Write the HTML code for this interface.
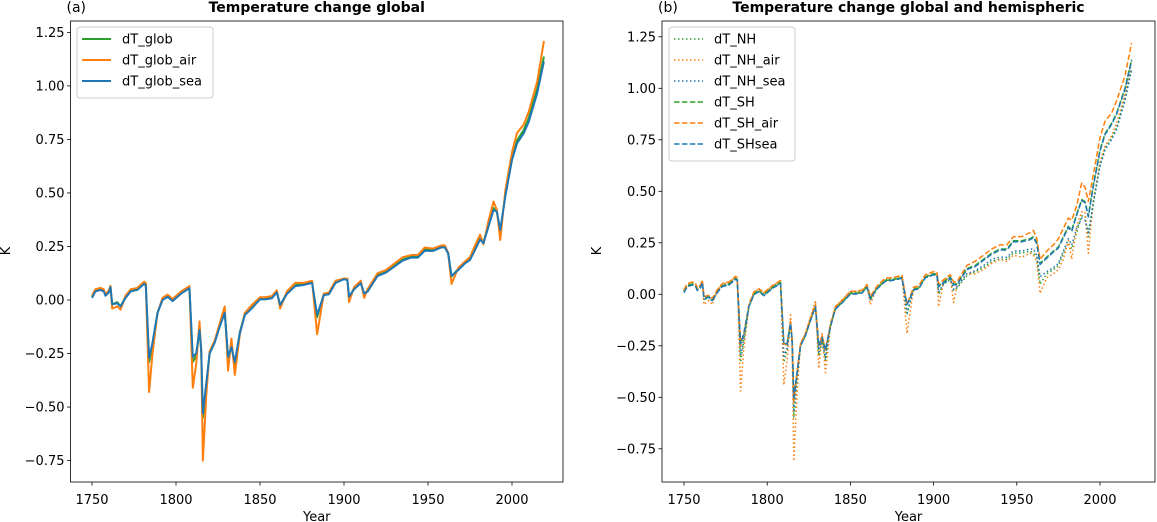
<!DOCTYPE html>
<html><head><meta charset="utf-8">
<style>
html,body{margin:0;padding:0;background:#fff;}
svg{display:block;font-family:"DejaVu Sans","Liberation Sans",sans-serif;}
</style></head>
<body>
<svg id="fig" width="1157" height="522" viewBox="0 0 1157 522" xmlns="http://www.w3.org/2000/svg"></svg>
<script>
const years=[1750,1752,1755,1757,1758,1760,1761,1762,1765,1767,1770,1773,1777,1781,1782,1784,1786,1789,1792,1795,1798,1803,1808,1810,1812,1814,1815,1816,1818,1820,1823,1826,1829,1831,1833,1835,1838,1841,1845,1850,1853,1857,1860,1862,1866,1871,1876,1881,1884,1888,1891,1895,1900,1902,1903,1906,1910,1912,1914,1920,1925,1930,1935,1940,1944,1948,1953,1958,1960,1962,1964,1968,1972,1975,1978,1981,1983,1986,1989,1991,1993,1996,2000,2003,2007,2010,2015,2019];
const dT_glob=[0.015,0.045,0.052,0.045,0.025,0.04,0.065,-0.02,-0.01,-0.03, 0.015,0.045,0.052,0.08,0.075,-0.29,-0.21,-0.06,0.005,0.02, 0,0.035,0.06,-0.29,-0.26,-0.14,-0.24,-0.55,-0.4,-0.25, -0.195,-0.12,-0.055,-0.27,-0.22,-0.3,-0.15,-0.065,-0.035,0.008, 0.008,0.013,0.04,-0.025,0.033,0.07,0.075,0.085,-0.08,0.028, 0.032,0.085,0.1,0.097,0.01,0.055,0.082,0.025,0.042,0.117, 0.133,0.161,0.189,0.203,0.203,0.236,0.234,0.251,0.25,0.22, 0.11,0.145,0.176,0.192,0.24,0.29,0.27,0.35,0.43,0.41, 0.32,0.49,0.665,0.745,0.795,0.85,0.985,1.137];
const dT_glob_air=[0.02,0.05,0.057,0.05,0.025,0.045,0.065,-0.04,-0.03,-0.045, 0.02,0.05,0.057,0.085,0.08,-0.43,-0.25,-0.06,0.01,0.025, 0.005,0.04,0.065,-0.41,-0.3,-0.1,-0.24,-0.75,-0.45,-0.24, -0.19,-0.11,-0.03,-0.33,-0.18,-0.35,-0.16,-0.06,-0.025,0.013, 0.013,0.018,0.045,-0.04,0.04,0.08,0.08,0.09,-0.16,0.03, 0.035,0.09,0.1,0.1,-0.01,0.06,0.09,0.01,0.05,0.125, 0.14,0.17,0.2,0.21,0.21,0.245,0.24,0.255,0.255,0.22, 0.075,0.15,0.18,0.2,0.255,0.305,0.26,0.37,0.46,0.42, 0.28,0.51,0.69,0.78,0.82,0.88,1.02,1.21];
const dT_glob_sea=[0.01,0.04,0.047,0.04,0.02,0.035,0.06,-0.02,-0.015,-0.03, 0.01,0.04,0.047,0.075,0.07,-0.27,-0.2,-0.06,0,0.015, -0.005,0.03,0.055,-0.265,-0.25,-0.14,-0.23,-0.53,-0.39,-0.25, -0.2,-0.125,-0.06,-0.265,-0.22,-0.29,-0.155,-0.07,-0.04,0.003, 0.003,0.008,0.035,-0.023,0.028,0.065,0.07,0.08,-0.07,0.023, 0.027,0.08,0.097,0.093,0.016,0.05,0.078,0.031,0.039,0.112, 0.128,0.156,0.184,0.198,0.198,0.23,0.229,0.246,0.246,0.218, 0.112,0.14,0.171,0.187,0.234,0.283,0.265,0.343,0.42,0.413, 0.327,0.483,0.654,0.732,0.779,0.833,0.966,1.114];
const dT_NH=[0.015,0.045,0.052,0.045,0.025,0.04,0.065,-0.03,-0.01,-0.035, 0.015,0.045,0.052,0.08,0.075,-0.33,-0.22,-0.06,0.005,0.02, 0,0.035,0.06,-0.33,-0.27,-0.14,-0.25,-0.6,-0.42,-0.25, -0.195,-0.12,-0.055,-0.3,-0.23,-0.32,-0.15,-0.065,-0.035,0.008, 0.008,0.013,0.04,-0.03,0.033,0.07,0.075,0.085,-0.1,0.028, 0.03,0.085,0.095,0.09,0,0.05,0.07,0.02,0.03,0.09, 0.11,0.13,0.16,0.17,0.17,0.2,0.2,0.21,0.2,0.18, 0.05,0.1,0.12,0.14,0.2,0.25,0.22,0.3,0.38,0.38, 0.28,0.45,0.63,0.71,0.76,0.81,0.95,1.1];
const dT_NH_air=[0.02,0.05,0.057,0.05,0.025,0.045,0.065,-0.05,-0.03,-0.05, 0.02,0.05,0.057,0.085,0.08,-0.47,-0.26,-0.06,0.01,0.025, 0.005,0.04,0.065,-0.44,-0.32,-0.1,-0.25,-0.81,-0.47,-0.24, -0.19,-0.11,-0.03,-0.36,-0.19,-0.38,-0.16,-0.06,-0.025,0.013, 0.013,0.018,0.045,-0.05,0.04,0.08,0.08,0.09,-0.19,0.03, 0.035,0.09,0.1,0.1,-0.06,0.06,0.09,-0.04,0.04,0.1, 0.1,0.12,0.15,0.17,0.16,0.19,0.18,0.2,0.19,0.16, 0.005,0.08,0.1,0.12,0.17,0.26,0.17,0.33,0.4,0.4, 0.2,0.45,0.64,0.72,0.77,0.83,0.97,1.13];
const dT_NH_sea=[0.01,0.04,0.047,0.04,0.02,0.035,0.06,-0.025,-0.015,-0.035, 0.01,0.04,0.047,0.075,0.07,-0.3,-0.21,-0.06,0,0.015, -0.005,0.03,0.055,-0.3,-0.26,-0.14,-0.24,-0.57,-0.4,-0.25, -0.2,-0.125,-0.06,-0.28,-0.22,-0.31,-0.155,-0.07,-0.04,0.003, 0.003,0.008,0.035,-0.025,0.028,0.065,0.07,0.08,-0.09,0.023, 0.027,0.08,0.095,0.09,0.01,0.05,0.075,0.025,0.035,0.1, 0.115,0.14,0.17,0.18,0.18,0.21,0.21,0.22,0.22,0.19, 0.085,0.11,0.13,0.15,0.21,0.27,0.24,0.32,0.37,0.36, 0.3,0.44,0.62,0.7,0.75,0.8,0.94,1.09];
const dT_SH=[0.012,0.042,0.05,0.042,0.022,0.037,0.062,-0.015,-0.012,-0.028, 0.012,0.042,0.05,0.077,0.072,-0.24,-0.19,-0.06,0.002,0.017, -0.002,0.032,0.057,-0.24,-0.24,-0.14,-0.22,-0.5,-0.38,-0.25, -0.2,-0.125,-0.06,-0.25,-0.21,-0.27,-0.155,-0.07,-0.04,0.005, 0.005,0.01,0.037,-0.018,0.03,0.067,0.072,0.082,-0.05,0.025, 0.03,0.085,0.1,0.097,0.04,0.06,0.085,0.05,0.05,0.125, 0.14,0.17,0.2,0.22,0.22,0.26,0.26,0.27,0.28,0.25, 0.15,0.18,0.21,0.23,0.28,0.33,0.31,0.39,0.46,0.45, 0.38,0.53,0.7,0.78,0.83,0.88,1.0,1.14];
const dT_SH_air=[0.022,0.052,0.06,0.052,0.03,0.047,0.07,-0.01,-0.005,-0.02, 0.022,0.052,0.06,0.087,0.082,-0.25,-0.19,-0.05,0.012,0.027, 0.008,0.042,0.067,-0.25,-0.24,-0.13,-0.22,-0.52,-0.37,-0.24, -0.19,-0.115,-0.05,-0.25,-0.2,-0.27,-0.145,-0.06,-0.03,0.015, 0.015,0.02,0.047,-0.01,0.04,0.077,0.082,0.092,-0.05,0.035, 0.04,0.095,0.11,0.107,0.05,0.07,0.095,0.06,0.06,0.14, 0.16,0.19,0.22,0.24,0.24,0.28,0.28,0.3,0.31,0.27, 0.17,0.21,0.24,0.27,0.32,0.37,0.36,0.43,0.54,0.52, 0.45,0.58,0.76,0.84,0.88,0.94,1.06,1.22];
const dT_SHsea=[0.008,0.038,0.045,0.038,0.018,0.033,0.058,-0.018,-0.015,-0.03, 0.008,0.038,0.045,0.073,0.068,-0.24,-0.19,-0.06,-0.002,0.013, -0.007,0.028,0.053,-0.24,-0.24,-0.14,-0.22,-0.5,-0.38,-0.25, -0.2,-0.127,-0.062,-0.25,-0.21,-0.27,-0.157,-0.072,-0.042,0.001, 0.001,0.006,0.033,-0.02,0.026,0.063,0.068,0.078,-0.05,0.021, 0.026,0.08,0.095,0.093,0.036,0.056,0.08,0.046,0.046,0.12, 0.135,0.165,0.195,0.215,0.215,0.255,0.255,0.265,0.275,0.245, 0.145,0.175,0.205,0.225,0.275,0.325,0.305,0.385,0.455,0.445, 0.375,0.525,0.695,0.775,0.825,0.875,0.995,1.135];
const yTicks=[-0.75,-0.5,-0.25,0,0.25,0.5,0.75,1.0,1.25];
const yTickLabels=["−0.75","−0.50","−0.25","0.00","0.25","0.50","0.75","1.00","1.25"];
const xTicks=[1750,1800,1850,1900,1950,2000];

const svg=document.getElementById('fig');
const NS='http://www.w3.org/2000/svg';
function mk(tag,attrs,parent){const e=document.createElementNS(NS,tag);for(const k in attrs)e.setAttribute(k,attrs[k]);(parent||svg).appendChild(e);return e;}
function txt(s,attrs,parent){const e=mk('text',attrs,parent);e.textContent=s;return e;}

function panel(cfg){
  const g=mk('g',{});
  
  
  const L=cfg.left,R=cfg.right,T=21,B=482;
  const xs=v=>cfg.x1750+(v-1750)*(cfg.x2000-cfg.x1750)/250;
  const ys=v=>cfg.y0-v*cfg.yUnit;
  const clip='clip'+cfg.id;
  const cp=mk('clipPath',{id:clip},g);mk('rect',{x:L,y:T,width:R-L,height:B-T},cp);
  yTicks.forEach((t,i)=>{
    const y=ys(t);
    const tk=mk('line',{x1:L-3.5,x2:L,y1:y,y2:y,stroke:'#000','stroke-width':0.8},g);
    
    
    const lb=txt(yTickLabels[i],{x:L-6,y:y+4.5,'font-size':13,'text-anchor':'end',fill:'#000'},g);
    
    
  });
  xTicks.forEach(t=>{
    const x=xs(t);
    const tk=mk('line',{x1:x,x2:x,y1:B,y2:B+3.5,stroke:'#000','stroke-width':0.8},g);
    
    
    const lb=txt(String(t),{x:x,y:B+22,'font-size':13,'text-anchor':'middle',fill:'#000'},g);
    
    
  });
  const lg=mk('g',{'clip-path':'url(#'+clip+')'},g);
  cfg.series.forEach(s=>{
    const d=years.map((yr,i)=>(i?'L':'M')+xs(yr).toFixed(2)+','+ys(s.data[i]).toFixed(2)).join(' ');
    const p=mk('path',{d:d,fill:'none',stroke:s.color,'stroke-width':cfg.lw,'stroke-linejoin':'round'},lg);
    if(s.dash)p.setAttribute('stroke-dasharray',s.dash);
    
    
  });
  const fr=mk('rect',{x:L,y:T,width:R-L,height:B-T,fill:'none',stroke:'#000','stroke-width':0.8},g);
  
  
  const leg=mk('g',{},g);
  
  
  mk('rect',{x:cfg.legX,y:27,width:cfg.legW,height:8+cfg.series.length*21,rx:3,fill:'#fff','fill-opacity':0.8,stroke:'#ccc','stroke-width':1},leg);
  cfg.series.forEach((s,i)=>{
    const y=39+i*21;
    const e=mk('g',{},leg);
    
    
    const l=mk('line',{x1:cfg.legX+5,x2:cfg.legX+34,y1:y,y2:y,stroke:s.color,'stroke-width':cfg.lw},e);
    if(s.dash)l.setAttribute('stroke-dasharray',s.dash);
    txt(s.label,{x:cfg.legX+45,y:y+4.5,'font-size':13,fill:'#000'},e);
  });
  const ti=txt(cfg.title,{x:(L+R)/2,y:12,'font-size':14,'font-weight':'bold','text-anchor':'middle',fill:'#000'},g);
  
  
  const pl=txt(cfg.tag,{x:L-4,y:12,'font-size':14,fill:'#000'},g);
  
  
  const xl=txt('Year',{x:(L+R)/2,y:521,'font-size':13,'text-anchor':'middle',fill:'#000'},g);
  
  
  const yl=txt('K',{x:0,y:0,'font-size':13,'text-anchor':'middle',fill:'#000',transform:'translate('+cfg.kx+',251) rotate(-90)'},g);
  
  
}
const G='#2ca02c',O='#ff7f0e',B='#1f77b4';
panel({id:'a',name:'panel-global',left:70.5,right:563,x1750:92,x2000:512,y0:300,yUnit:214.1,lw:2,legX:77,legW:136,kx:10,tag:'(a)',title:'Temperature change global',
  series:[{label:'dT_glob',data:dT_glob,color:G},{label:'dT_glob_air',data:dT_glob_air,color:O},{label:'dT_glob_sea',data:dT_glob_sea,color:B}]});
const dot='1.5,2.5',dash='5.5,2.4';
panel({id:'b',name:'panel-hemispheric',left:662,right:1155,x1750:684,x2000:1100,y0:294.3,yUnit:206,lw:1.5,legX:669,legW:126,kx:601,tag:'(b)',title:'Temperature change global and hemispheric',
  series:[{label:'dT_NH',data:dT_NH,color:G,dash:dot},{label:'dT_NH_air',data:dT_NH_air,color:O,dash:dot},{label:'dT_NH_sea',data:dT_NH_sea,color:B,dash:dot},
          {label:'dT_SH',data:dT_SH,color:G,dash:dash},{label:'dT_SH_air',data:dT_SH_air,color:O,dash:dash},{label:'dT_SHsea',data:dT_SHsea,color:B,dash:dash}]});
</script>
</body></html>
